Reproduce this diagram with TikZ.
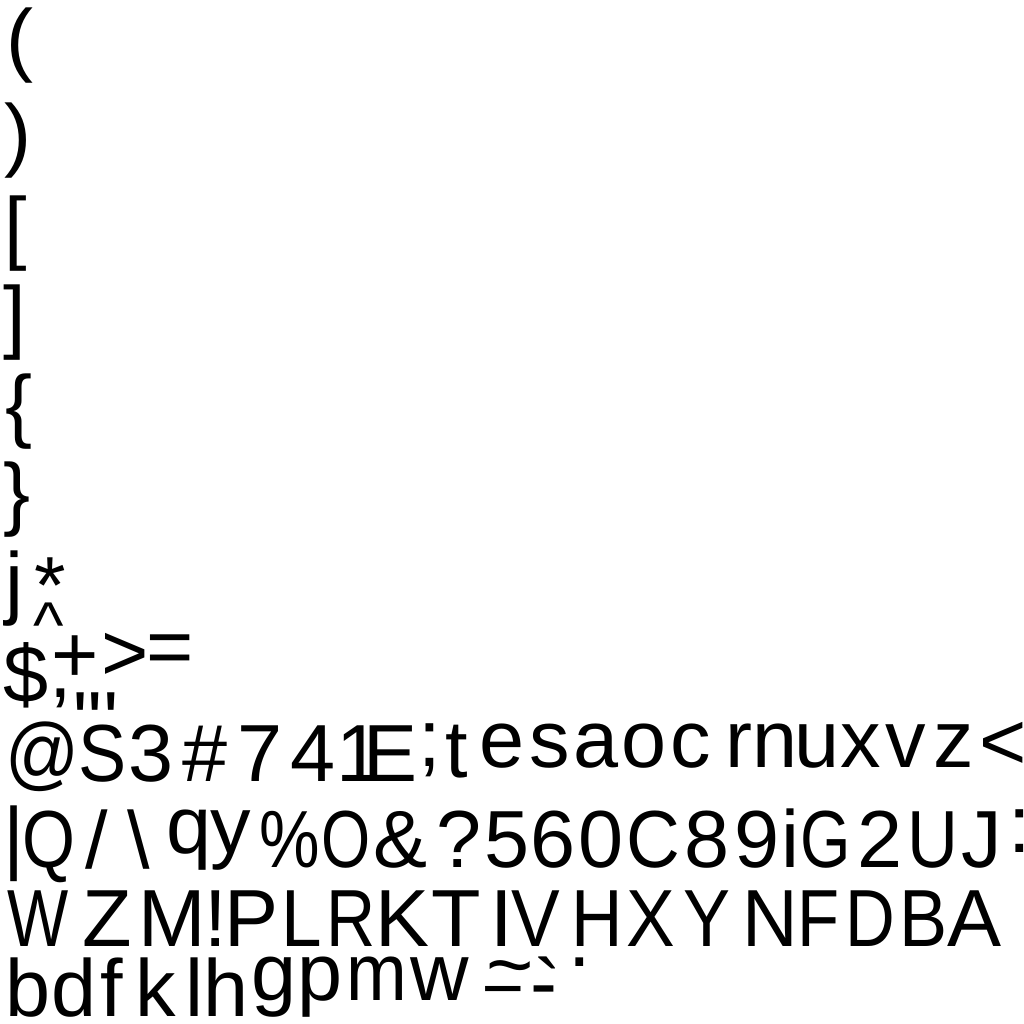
\documentclass[tikz,border=0pt]{standalone}
\usepackage{fontspec}
\setmainfont{Liberation Sans}
\begin{document}
\begin{tikzpicture}[x=1pt,y=-1pt,
  gl/.style={anchor=base,inner sep=0pt,outer sep=0pt,font=\fontsize{81}{81}\selectfont,text=black}]
\useasboundingbox[fill=white] (0,0) rectangle (1024,1024);
% column of brackets
\node[gl] (pl) at (20,66.5) {(};
\node[gl] (pr) at (17.5,162) {)};
\node[gl] (bl) at (16,254.5) {[};
\node[gl] (br) at (14.4,343) {]};
\node[gl] (cl) at (19,432.5) {\{};
\node[gl] (cr) at (17.5,520.5) {\}};
% row 1
\node[gl] (rj) at (14.5,609) {j};
\node[gl] (rast) at (50,613.4) {*};
\node[gl,scale=0.8] (rcirc) at (49,647.5) {\textasciicircum};
\node[gl] (rdol) at (26.5,702.4) {\$};
\node[gl] (rplus) at (75,682) {+};
\node[gl] (rgt) at (125,680) {>};
\node[gl] (req) at (170,674) {=};
\node[gl] (rcom) at (61,697) {,};
\node[gl] (rdq) at (87.5,748.6) {\textquotedbl};
\node[gl] (rsq) at (111,748.6) {\textquotesingle};
% row 2
\node[gl,xscale=0.9] (at) at (42.5,780.5) {@};
\node[gl,xscale=0.89] (S) at (102.5,781) {S};
\node[gl] (d3) at (151.5,781) {3};
\node[gl] (hash) at (205,781) {\#};
\node[gl] (d7) at (260,781) {7};
\node[gl] (d4) at (313.5,781) {4};
\node[gl] (d1) at (359,781) {1};
\node[gl] (E) at (390.5,781) {E};
\node[gl] (semi) at (430,766) {;};
\node[gl] (t) at (457,777) {t};
\node[gl] (e) at (502.5,767) {e};
\node[gl] (s) at (550,767) {s};
\node[gl] (a) at (596.5,767) {a};
\node[gl] (o) at (644,767) {o};
\node[gl] (c) at (691,767) {c};
\node[gl] (r) at (738.7,767) {r};
\node[gl] (n) at (775,767) {n};
\node[gl] (u) at (817.5,767) {u};
\node[gl] (x) at (861,767) {x};
\node[gl] (v) at (906,767) {v};
\node[gl] (z) at (954,767) {z};
\node[gl] (lt) at (1003.5,769) {<};
% row 3
\node[gl] (bar) at (14,864.5) {|};
\node[gl,xscale=0.84] (Q) at (48.5,867) {Q};
\node[gl] (slash) at (97,868) {/};
\node[gl] (bslash) at (139,868) {\textbackslash};
\node[gl] (q) at (188.7,853) {q};
\node[gl] (y) at (231,853) {y};
\node[gl,xscale=0.84] (pct) at (290,867) {\%};
\node[gl,xscale=0.78] (O) at (346,867) {O};
\node[gl] (amp) at (401,867) {\&};
\node[gl] (qm) at (459,867) {?};
\node[gl] (d5) at (507.5,867) {5};
\node[gl] (d6) at (553.5,867) {6};
\node[gl] (d0) at (601,867) {0};
\node[gl,xscale=0.92] (C) at (653.5,867) {C};
\node[gl] (d8) at (707,867) {8};
\node[gl] (d9) at (757.5,867) {9};
\node[gl] (i) at (790,867) {i};
\node[gl,xscale=0.8] (G) at (826,867) {G};
\node[gl] (d2) at (880,867) {2};
\node[gl,xscale=0.87] (U) at (933,867) {U};
\node[gl] (J) at (982,867) {J};
\node[gl] (colon) at (1020,852) {:};
% row 4
\node[gl,xscale=0.8] (W) at (38,946) {W};
\node[gl] (Z) at (107.5,946) {Z};
\node[gl] (M) at (172.5,946) {M};
\node[gl] (excl) at (216,946) {!};
\node[gl] (P) at (251.5,946) {P};
\node[gl,xscale=0.9] (L) at (301.8,946) {L};
\node[gl,xscale=0.84] (R) at (351,946) {R};
\node[gl] (K) at (402.5,946) {K};
\node[gl] (T) at (456,946) {T};
\node[gl] (I) at (501.5,946) {I};
\node[gl,xscale=0.9] (V) at (536,946) {V};
\node[gl,xscale=0.88] (H) at (597,946) {H};
\node[gl,xscale=0.9] (X) at (651,946) {X};
\node[gl,xscale=0.87] (Y) at (707,946) {Y};
\node[gl,xscale=0.95] (N) at (770,946) {N};
\node[gl,xscale=0.85] (F) at (818.4,946) {F};
\node[gl,xscale=0.85] (D) at (870.5,946) {D};
\node[gl,xscale=0.89] (B) at (923.5,946) {B};
\node[gl] (A) at (974,946) {A};
% row 5
\node[gl] (b) at (28,1016) {b};
\node[gl] (d) at (74,1016) {d};
\node[gl] (f) at (111.7,1016) {f};
\node[gl] (k) at (156,1016) {k};
\node[gl] (l) at (194,1016) {l};
\node[gl] (h) at (226.5,1016) {h};
\node[gl] (g) at (274.4,1000) {g};
\node[gl] (p) at (320,1000) {p};
\node[gl,xscale=0.9] (m) at (377,1000) {m};
\node[gl] (w) at (440,1000) {w};
\node[gl] (tilde) at (510,992.4) {\textasciitilde};
\node[gl,xscale=0.75] (under) at (503,975) {\_};
\node[gl] (grave) at (548,1016.6) {\textasciigrave};
\node[gl] (hyph) at (544,1010) {-};
\node[gl] (dot) at (580,966.5) {.};
\end{tikzpicture}
\end{document}
